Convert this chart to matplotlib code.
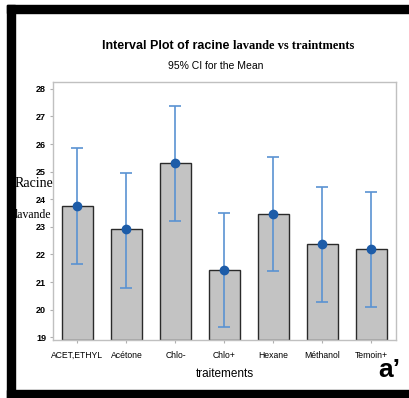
import matplotlib
matplotlib.use("Agg")
import matplotlib.pyplot as plt
from matplotlib.patches import Rectangle

# values
traitements = ["ACET,ETHYL", "Acétone", "Chlo-", "Chlo+", "Hexane", "Méthanol", "Temoin+"]
moyennes = [23.76, 22.92, 25.31, 21.42, 23.47, 22.37, 22.19]
ic_haut = [25.86, 24.97, 27.38, 23.52, 25.54, 24.44, 24.26]
ic_bas = [21.66, 20.80, 23.23, 19.38, 21.40, 20.28, 20.11]
yticks = [19, 20, 21, 22, 23, 24, 25, 26, 27, 28]

sans = ["Liberation Sans", "DejaVu Sans"]
serif = ["Liberation Serif", "DejaVu Serif"]

W, H = 410, 398
fig = plt.figure(figsize=(W / 100, H / 100), dpi=100)
ax = fig.add_axes([53 / W, 1 - 340 / H, (396 - 53) / W, (340 - 82) / H])

ymin, ymax = 18.9, 28.25
x = list(range(len(traitements)))
hauteurs = [m - ymin for m in moyennes]
ax.bar(x, hauteurs, bottom=ymin, width=0.62, color="#c3c3c3",
       edgecolor="#2a2a2a", linewidth=1.0, zorder=2)

err_bas = [m - b for m, b in zip(moyennes, ic_bas)]
err_haut = [h - m for m, h in zip(moyennes, ic_haut)]
ax.errorbar(x, moyennes, yerr=[err_bas, err_haut], fmt="o", color="#5a92d2",
            ecolor="#5a92d2", elinewidth=1.2, capsize=4.5, capthick=1.2,
            markersize=6, markerfacecolor="#1d5ca8", markeredgecolor="#1d5ca8",
            zorder=3)

ax.set_xlim(-0.5, len(traitements) - 0.5)
ax.set_ylim(ymin, ymax)
ax.set_yticks(yticks)
ax.set_yticklabels([str(t) for t in yticks], family=sans, fontweight="bold", fontsize=6.5)
ax.set_xticks(x)
ax.set_xticklabels(traitements, family=sans, fontsize=6.2)
ax.tick_params(axis="both", length=2, color="#b0b0b0", pad=3)
ax.tick_params(axis="x", pad=6)
for s in ax.spines.values():
    s.set_color("#c0c0c0")
    s.set_linewidth(1.0)

ax.set_xlabel("traitements", family=sans, fontsize=8.5, labelpad=6)

# title in two fonts like the original
fig.text(233 / W, 1 - 46 / H, "Interval Plot of racine ", family=sans,
         fontweight="bold", fontsize=9, ha="right", va="center")
fig.text(233 / W, 1 - 46 / H, "lavande vs traintments", family=serif,
         fontweight="bold", fontsize=9, ha="left", va="center")
fig.text(216 / W, 1 - 66 / H, "95% CI for the Mean", family=sans,
         fontsize=7.5, ha="center", va="center")

fig.text(15 / W, 1 - 183 / H, "Racine", family=serif, fontsize=10, ha="left", va="center")
fig.text(15 / W, 1 - 215 / H, "lavande", family=serif, fontsize=8.5, ha="left", va="center")

fig.text(378 / W, 1 - 377 / H, "a\u2019", family=sans,
         fontweight="bold", fontsize=19, ha="left", va="baseline")

# black frame (left, top, bottom)
fig.add_artist(Rectangle((7 / W, 0), 8 / W, 1 - 5 / H, transform=fig.transFigure,
                         color="black", zorder=5))
fig.add_artist(Rectangle((7 / W, 1 - 13 / H), 1, 8 / H, transform=fig.transFigure,
                         color="black", zorder=5))
fig.add_artist(Rectangle((7 / W, 0), 1, 8 / H, transform=fig.transFigure,
                         color="black", zorder=5))

fig.savefig("out.png", dpi=100)
